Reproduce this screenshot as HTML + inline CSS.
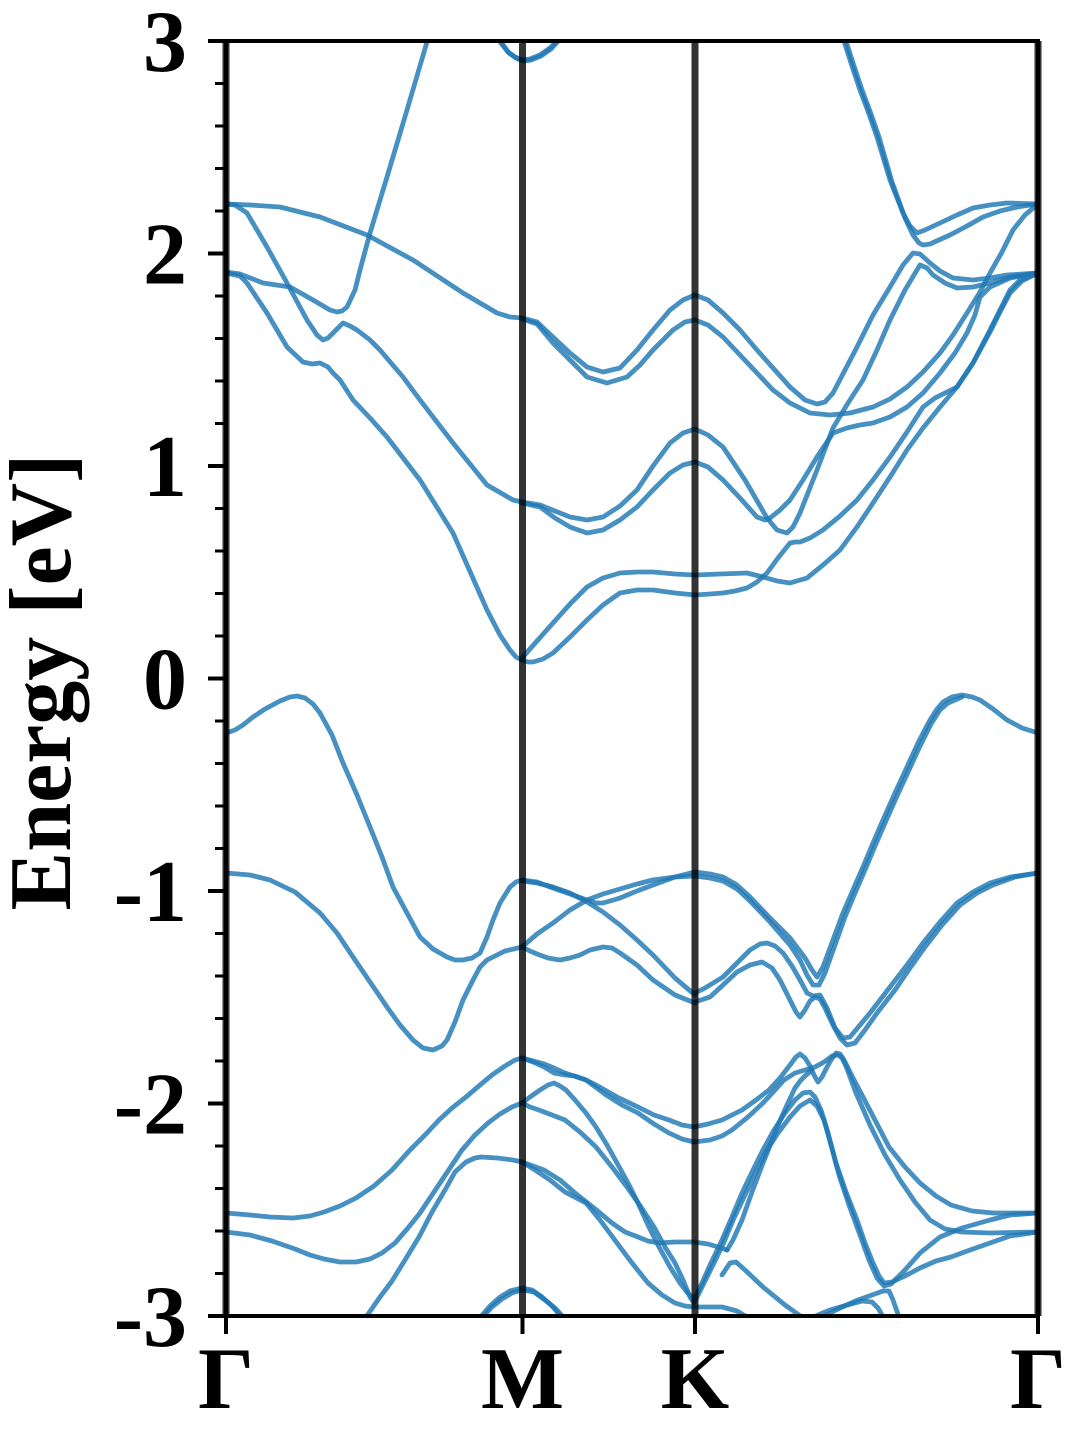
<!DOCTYPE html>
<html>
<head>
<meta charset="utf-8">
<style>
html,body{margin:0;padding:0;background:#fff;}
svg{display:block;}
text{font-family:"Liberation Serif",serif;font-weight:bold;fill:#000;}
</style>
</head>
<body>
<svg width="1080" height="1440" viewBox="0 0 1080 1440" xmlns="http://www.w3.org/2000/svg">
<rect x="0" y="0" width="1080" height="1440" fill="#fff"/>
<defs>
<clipPath id="pa"><rect x="226" y="41" width="812" height="1275"/></clipPath>
</defs>

<g clip-path="url(#pa)" fill="none" stroke="#1f77b4" stroke-width="4.8" stroke-opacity="0.82" stroke-linejoin="round" stroke-linecap="round">
<!-- conduction G-M -->
<polyline points="226,204 250,205 280,207 320,217 367,235 413,260 463,293 497,313 510,317 522,318"/>
<polyline points="226,204 235,205 247,213 267,247 287,283 307,320 317,335 323,340 328,338 333,333 343,323 350,326 357,330 370,340 380,350 403,377 420,400 453,443 487,485 513,500 522,502"/>
<polyline points="226,272 240,274 263,283 290,287 313,300 330,310 337,312 342,311 347,307 355,290 360,270 370,233 387,177 407,110 427,42 428,38"/>
<polyline points="226,273 240,276 247,283 267,313 287,347 303,362 312,364 320,363 328,367 333,373 340,380 353,400 370,418 387,437 420,480 453,533 487,610 500,635 510,650 516,657 522,660"/>
<polyline points="497,38 508,52 515,57 522,60 530,59 540,55 550,48 560,38"/>
<polyline points="498,38 509,53 516,58 523,61 531,60 541,56 551,49 561,38"/>
<!-- conduction M-K -->
<polyline points="522,318 537,322 553,337 570,353 587,367 603,372 620,368 637,350 653,330 670,310 683,300 695,295"/>
<polyline points="522,319 537,324 553,343 570,360 587,377 607,383 627,377 640,365 653,350 673,330 685,322 695,320"/>
<polyline points="522,502 540,505 555,511 570,517 587,520 603,517 620,506 637,490 653,466 670,443 683,433 695,429"/>
<polyline points="522,503 540,507 555,518 570,527 587,533 603,530 620,520 637,507 653,490 670,473 683,465 695,462"/>
<polyline points="522,658 537,641 553,623 570,604 587,587 603,578 620,573 637,572 653,572 675,574 695,575"/>
<polyline points="522,660 528,662 533,662 543,659 553,653 570,637 587,620 603,605 620,593 637,590 653,590 675,593 695,595"/>
<!-- conduction K-G -->
<polyline points="695,295 708,300 723,313 740,330 757,350 773,368 790,387 805,400 817,404 825,402 833,393 845,370 857,347 873,315 890,287 903,265 913,253 920,254 930,263 940,271 953,278 973,280 990,278 1007,275 1038,273"/>
<polyline points="695,320 708,325 723,337 740,355 757,373 773,390 790,403 810,413 830,415 850,413 873,407 890,399 907,387 923,372 940,353 953,335 967,313 980,292 990,273 1002,252 1013,230 1025,215 1038,204"/>
<polyline points="695,429 708,435 723,447 745,480 767,518 777,530 787,533 793,527 800,513 817,470 833,428 848,403 863,380 877,350 890,320 905,290 920,265 927,268 933,275 945,283 957,288 973,287 990,283 1010,277 1038,273"/>
<polyline points="695,462 708,467 723,480 740,498 757,517 765,520 770,518 780,510 790,500 803,480 817,457 833,433 847,428 860,425 873,423 890,417 907,407 923,393 940,373 955,353 967,333 975,315 980,297 990,287 1010,278 1038,273"/>
<polyline points="695,575 720,574 747,573 763,577 777,581 790,583 807,578 823,565 840,550 857,527 873,503 890,477 907,450 923,428 940,407 957,387 973,363 990,330 1000,310 1010,290 1020,280 1038,273"/>
<polyline points="695,595 710,594 723,593 735,591 747,588 757,582 767,573 778,558 790,543 795,542 800,542 810,538 823,530 840,516 857,500 873,480 890,457 907,432 923,407 935,398 945,393 957,387 973,363 990,332 1000,312 1010,293 1022,281 1038,273"/>
<polyline points="843,38 851,63 860,90 869,114 877,137 890,180 903,213 910,226 917,233 925,230 940,223 957,215 973,208 990,205 1007,203 1038,204"/>
<polyline points="845,38 853,63 862,90 871,114 879,137 892,182 905,218 913,235 919,243 923,245 930,244 950,235 967,226 983,217 1000,211 1017,207 1038,204"/>
<!-- valence G-M -->
<polyline points="226,733 235,730 243,725 253,717 265,709 280,701 290,697 297,696 305,698 313,704 320,713 332,735 343,763 357,795 370,827 382,857 393,887 407,913 420,937 433,949 447,957 455,960 463,960 472,958 480,953 487,937 493,920 500,903 510,887 516,882 522,880"/>
<polyline points="226,873 250,875 270,880 295,892 320,913 337,933 353,957 370,982 387,1007 400,1025 413,1040 423,1048 433,1050 442,1046 447,1040 455,1022 463,1000 473,980 480,967 487,960 493,957 505,951 522,947"/>
<!-- valence M-K -->
<polyline points="522,880 537,882 553,888 570,894 587,900 596,903 603,903 610,901 620,898 637,891 653,885 675,877 695,872"/>
<polyline points="522,881 537,883 553,887 570,893 587,902 603,912 620,925 637,940 653,955 675,978 695,995"/>
<polyline points="522,947 537,934 553,923 570,910 587,900 603,894 620,889 637,884 653,880 675,877 695,876"/>
<polyline points="522,947 530,951 537,954 548,958 560,960 570,958 580,955 590,950 603,947 612,948 620,953 637,965 653,980 675,995 695,1003"/>
<!-- valence K-G -->
<polyline points="695,872 710,874 723,877 737,885 750,897 770,918 790,938 805,958 812,970 817,977 823,967 833,940 843,913 853,890 863,867 873,843 883,820 895,793 907,767 918,743 930,720 937,709 943,702 952,697 962,695 972,697 980,700 993,709 1007,720 1022,728 1038,733"/>
<polyline points="695,876 710,878 723,881 737,889 750,901 770,922 790,945 800,960 807,975 813,985 819,985 825,973 835,945 845,917 855,893 865,870 875,846 885,823 897,796 909,770 920,746 931,724 940,710 948,703 962,697"/>
<polyline points="695,993 705,988 723,977 737,963 750,950 760,944 767,943 775,946 783,953 792,966 800,980 807,993 813,996 820,995 827,1008 835,1028 843,1038 850,1037 860,1025 870,1013 890,987 907,965 923,943 940,922 957,903 973,892 990,883 1010,877 1038,873"/>
<polyline points="695,1002 710,997 723,985 737,972 750,965 762,962 772,968 780,980 790,1000 796,1012 800,1017 805,1010 810,1001 815,997 820,999 825,1008 833,1025 840,1038 847,1045 855,1043 865,1030 877,1013 895,990 910,968 925,947 942,925 960,905 977,893 993,885 1015,877 1038,873"/>
<!-- lower valence G-M -->
<polyline points="226,1213 250,1215 270,1217 293,1218 310,1216 324,1212 340,1206 356,1198 374,1186 392,1170 410,1150 425,1135 439,1120 452,1108 466,1097 480,1085 492,1075 505,1066 515,1060 522,1058"/>
<polyline points="226,1232 250,1235 272,1241 295,1249 310,1255 324,1259 340,1262 356,1262 370,1259 382,1253 395,1243 408,1228 420,1213 430,1198 440,1183 450,1168 462,1150 475,1135 488,1123 500,1114 512,1107 522,1103"/>
<polyline points="364,1320 380,1297 392,1281 405,1260 419,1237 432,1212 445,1190 455,1172 466,1162 475,1158 481,1157 497,1158 513,1160 522,1162"/>
<polyline points="478,1320 490,1306 500,1297 510,1291 522,1288 532,1290 542,1297 552,1306 564,1320"/>
<polyline points="480,1320 492,1307 502,1299 512,1293 522,1290 534,1292 545,1300 555,1308 566,1320"/>
<!-- lower M-K -->
<polyline points="522,1058 533,1062 544,1067 554,1073 565,1075 575,1076 586,1080 596,1085 617,1097 638,1107 654,1115 669,1120 682,1125 694,1127"/>
<polyline points="522,1058 533,1061 544,1064 554,1068 565,1073 586,1080 606,1095 622,1105 638,1113 654,1124 669,1133 682,1139 694,1142"/>
<polyline points="522,1103 530,1097 540,1090 548,1085 554,1083 560,1086 566,1090 575,1100 586,1113 596,1127 607,1145 617,1163 628,1183 638,1203 648,1225 659,1247 670,1267 680,1283 687,1292 694,1300"/>
<polyline points="522,1103 530,1107 539,1110 552,1115 565,1120 580,1132 596,1147 612,1167 627,1187 641,1207 654,1227 665,1247 675,1263 683,1280 690,1297 694,1303"/>
<polyline points="522,1162 533,1166 544,1170 560,1180 575,1193 594,1208 612,1223 625,1232 638,1237 648,1241 659,1243 675,1242 694,1242 708,1244 718,1247 727,1250"/>
<polyline points="522,1162 535,1170 550,1180 565,1192 586,1203 600,1220 617,1243 632,1263 648,1283 662,1295 675,1303 685,1306 694,1307 708,1307 722,1307 737,1311 752,1320"/>
<!-- lower K-G -->
<polyline points="694,1300 702,1283 711,1263 722,1240 732,1217 742,1193 753,1170 763,1150 774,1130 785,1113 795,1100 803,1093 810,1092 815,1097 821,1110 828,1133 836,1163 846,1192 857,1220 865,1243 873,1263 879,1276 884,1283 892,1282 905,1276 920,1268 936,1261 951,1257 970,1250 990,1243 1010,1236 1038,1232"/>
<polyline points="694,1303 703,1285 713,1265 724,1242 734,1218 745,1195 756,1172 767,1150 778,1133 790,1117 800,1106 810,1100 817,1106 824,1120 831,1145 839,1175 849,1205 860,1235 869,1260 877,1278 884,1286 891,1284 905,1270 920,1253 940,1237 962,1228 990,1220 1010,1215 1038,1213"/>
<polyline points="694,1127 708,1124 722,1120 742,1110 756,1100 769,1090 780,1078 790,1065 796,1057 800,1054 805,1058 810,1066 814,1075 818,1082 822,1077 826,1069 831,1060 836,1053 840,1054 844,1060 853,1078 863,1097 876,1122 889,1147 905,1167 920,1183 936,1196 951,1205 972,1211 993,1213 1038,1213"/>
<polyline points="694,1142 710,1140 722,1136 732,1130 748,1117 763,1103 775,1090 784,1080 795,1073 805,1070 815,1067 824,1062 832,1056 838,1055 842,1058 846,1066 856,1093 870,1125 885,1155 900,1180 915,1202 930,1220 945,1229 962,1232 990,1233 1038,1232"/>
<polyline points="727,1250 733,1240 742,1220 752,1192 763,1163 771,1143 779,1123 787,1105 795,1088 801,1080 805,1076 812,1070"/>
<polyline points="722,1275 730,1263 736,1262 745,1270 763,1287 785,1305 806,1320"/>
<polyline points="806,1320 830,1310 847,1305 862,1301 872,1302 878,1308 885,1320"/>
<polyline points="816,1320 840,1308 858,1300 872,1295 883,1291 889,1291 893,1300 900,1320"/>
</g>

<!-- high-symmetry vertical lines -->
<g stroke="#000" stroke-opacity="0.8" stroke-width="7">
<line x1="226" y1="41" x2="226" y2="1316"/>
<line x1="522.5" y1="41" x2="522.5" y2="1316"/>
<line x1="695" y1="41" x2="695" y2="1316"/>
<line x1="1038" y1="41" x2="1038" y2="1316"/>
</g>

<!-- spines -->
<rect x="226" y="41" width="812" height="1275" fill="none" stroke="#000" stroke-width="4"/>

<!-- major y ticks -->
<path d="M208 41H226M208 253.5H226M208 466H226M208 678.5H226M208 891H226M208 1103.5H226M208 1316H226" stroke="#000" stroke-width="4"/>
<!-- minor y ticks -->
<path d="M215 83.5H226M215 126H226M215 168.5H226M215 211H226M215 296H226M215 338.5H226M215 381H226M215 423.5H226M215 508.5H226M215 551H226M215 593.5H226M215 636H226M215 721H226M215 763.5H226M215 806H226M215 848.5H226M215 933.5H226M215 976H226M215 1018.5H226M215 1061H226M215 1146H226M215 1188.5H226M215 1231H226M215 1273.5H226" stroke="#000" stroke-width="3"/>
<!-- x ticks -->
<path d="M226 1316V1334M522.5 1316V1334M695 1316V1334M1038 1316V1334" stroke="#000" stroke-width="4"/>

<!-- y tick labels -->
<g font-size="88" text-anchor="end">
<text x="187" y="71">3</text>
<text x="187" y="283.5">2</text>
<text x="187" y="496">1</text>
<text x="187" y="708.5">0</text>
<text x="187" y="921">-1</text>
<text x="187" y="1133.5">-2</text>
<text x="187" y="1346">-3</text>
</g>

<!-- x tick labels -->
<g font-size="88" text-anchor="middle">
<text x="226" y="1408">Γ</text>
<text x="522.5" y="1408">M</text>
<text x="695" y="1408">K</text>
<text x="1038" y="1408">Γ</text>
</g>

<!-- y axis label -->
<text font-size="88" text-anchor="middle" transform="translate(70,682) rotate(-90)">Energy [eV]</text>
</svg>
</body>
</html>
